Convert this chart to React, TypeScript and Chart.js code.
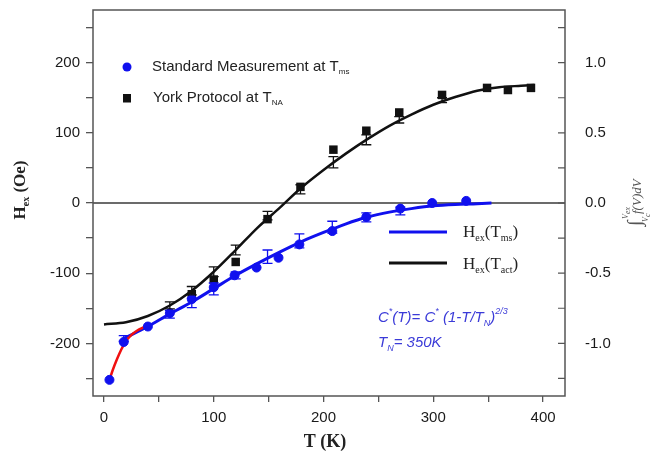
import React, { useEffect, useRef } from "react";
import { Chart, registerables } from "chart.js";

Chart.register(...registerables);

// Standard measurement at T_ms (blue circles)
const msT = [5, 18, 40, 60, 80, 100, 119, 139, 159, 178, 208, 239, 270, 299, 330];
const msH = [-252, -198, -176, -157, -137, -120, -103, -92, -78, -59, -40, -20, -8, 0, 3];

// York protocol at T_NA (black squares)
const naT = [80, 100, 120, 149, 179, 209, 239, 269, 308, 349, 368, 389];
const naH = [-130, -109, -84, -23, 23, 76, 103, 129, 154, 164, 161, 164];

// Fitted H_ex(T_ms)
const fitMsT = [18, 40, 60, 80, 100, 120, 140, 160, 180, 200, 220, 240, 260, 280, 300, 320, 340, 353];
const fitMsH = [-193, -176, -158, -141, -122, -103, -86, -70, -55, -42, -30, -20, -13, -8, -4, -2, -1, 0];

// Fitted H_ex(T_act)
const fitActT = [0, 20, 40, 60, 80, 100, 120, 140, 160, 180, 200, 220, 240, 260, 280, 300, 320, 340, 360, 380, 392];
const fitActH = [-173, -170, -161, -146, -125, -98, -67, -35, -7, 22, 47, 70, 91, 110, 126, 140, 151, 160, 165, 167, 168];

// Low-temperature branch (red)
const lowT = [5, 8, 12, 16, 20, 25, 30, 35, 40];
const lowH = [-252, -238, -222, -208, -197, -188, -182, -178, -175];

// Error bars on the H_ex(T_act) curve
const errActT = [60, 80, 100, 120, 149, 179, 209, 239, 269, 308];
const errActLo = [-151, -131, -105, -74, -24, 13, 50, 83, 114, 143];
const errActHi = [-141, -119, -91, -60, -12, 26, 66, 97, 123, 150];

// Error bars on the H_ex(T_ms) curve
const errMsT = [18, 60, 80, 100, 120, 149, 178, 208, 239, 270];
const errMsLo = [-197, -164, -149, -131, -108, -86, -64, -43, -27, -17];
const errMsHi = [-189, -153, -136, -114, -98, -67, -44, -26, -14, -6];

// Axis tick positions
const xTicks = [0, 50, 100, 150, 200, 250, 300, 350, 400];
const leftTicks = [-250, -200, -150, -100, -50, 0, 50, 100, 150, 200, 250];
const rightTicks = [-1.25, -1, -0.75, -0.5, -0.25, 0, 0.25, 0.5, 0.75, 1, 1.25];

const BLUE = "#1010ee";
const SANS = '"Liberation Sans", Arial, sans-serif';
const SERIF = '"Liberation Serif", "Times New Roman", serif';

type Part = { t: string; font: string; dy?: number };

function drawRich(ctx: CanvasRenderingContext2D, x: number, y: number, parts: Part[], align: "left" | "center" = "left") {
  let total = 0;
  for (const p of parts) {
    ctx.font = p.font;
    total += ctx.measureText(p.t).width;
  }
  let cx = align === "center" ? x - total / 2 : x;
  ctx.textAlign = "left";
  for (const p of parts) {
    ctx.font = p.font;
    ctx.fillText(p.t, cx, y + (p.dy || 0));
    cx += ctx.measureText(p.t).width;
  }
}

const noPad = (s: any) => {
  s.paddingTop = 0;
  s.paddingBottom = 0;
  s.paddingLeft = 0;
  s.paddingRight = 0;
};

const decor = {
  id: "decor",
  beforeDatasetsDraw(chart: any) {
    const { ctx, chartArea: a, scales } = chart;
    const y0 = scales.y.getPixelForValue(0);
    ctx.save();
    ctx.strokeStyle = "#3a3a3a";
    ctx.lineWidth = 1.5;
    ctx.beginPath();
    ctx.moveTo(a.left, y0);
    ctx.lineTo(a.right, y0);
    ctx.stroke();
    ctx.restore();
  },
  afterDatasetsDraw(chart: any) {
    const { ctx, scales } = chart;
    const xs = scales.x;
    const ys = scales.y;
    const bars = (T: number[], lo: number[], hi: number[], color: string) => {
      ctx.save();
      ctx.strokeStyle = color;
      ctx.lineWidth = 1.3;
      T.forEach((t, i) => {
        const px = xs.getPixelForValue(t);
        const yl = ys.getPixelForValue(lo[i]);
        const yh = ys.getPixelForValue(hi[i]);
        ctx.beginPath();
        ctx.moveTo(px, yl);
        ctx.lineTo(px, yh);
        ctx.moveTo(px - 5, yl);
        ctx.lineTo(px + 5, yl);
        ctx.moveTo(px - 5, yh);
        ctx.lineTo(px + 5, yh);
        ctx.stroke();
      });
      ctx.restore();
    };
    bars(errActT, errActLo, errActHi, "#111");
    bars(errMsT, errMsLo, errMsHi, BLUE);
  },
  afterDraw(chart: any) {
    const { ctx, chartArea: a, scales } = chart;
    ctx.save();

    // frame
    ctx.strokeStyle = "#555";
    ctx.lineWidth = 1.5;
    ctx.strokeRect(a.left, a.top, a.right - a.left, a.bottom - a.top);

    // inward ticks on the right axis
    ctx.lineWidth = 1.2;
    ctx.beginPath();
    for (const v of rightTicks) {
      const py = scales.y2.getPixelForValue(v);
      ctx.moveTo(a.right, py);
      ctx.lineTo(a.right - 7, py);
    }
    ctx.stroke();

    ctx.textBaseline = "middle";

    // upper-left legend
    ctx.fillStyle = BLUE;
    ctx.beginPath();
    ctx.arc(127, 67, 4.5, 0, Math.PI * 2);
    ctx.fill();
    ctx.fillStyle = "#111";
    ctx.fillRect(123, 94, 8, 8.5);
    ctx.fillStyle = "#222";
    drawRich(ctx, 152, 67, [
      { t: "Standard Measurement at T", font: `15px ${SANS}` },
      { t: "ms", font: `8px ${SANS}`, dy: 5 },
    ]);
    drawRich(ctx, 153, 98, [
      { t: "York Protocol at T", font: `15px ${SANS}` },
      { t: "NA", font: `8px ${SANS}`, dy: 5 },
    ]);

    // fit legend
    ctx.lineWidth = 3;
    ctx.strokeStyle = BLUE;
    ctx.beginPath();
    ctx.moveTo(389, 232);
    ctx.lineTo(447, 232);
    ctx.stroke();
    ctx.strokeStyle = "#111";
    ctx.beginPath();
    ctx.moveTo(389, 263);
    ctx.lineTo(447, 263);
    ctx.stroke();
    ctx.fillStyle = "#222";
    drawRich(ctx, 463, 233, [
      { t: "H", font: `17px ${SERIF}` },
      { t: "ex", font: `10px ${SERIF}`, dy: 5 },
      { t: "(T", font: `17px ${SERIF}` },
      { t: "ms", font: `10px ${SERIF}`, dy: 5 },
      { t: ")", font: `17px ${SERIF}` },
    ]);
    drawRich(ctx, 463, 265, [
      { t: "H", font: `17px ${SERIF}` },
      { t: "ex", font: `10px ${SERIF}`, dy: 5 },
      { t: "(T", font: `17px ${SERIF}` },
      { t: "act", font: `10px ${SERIF}`, dy: 5 },
      { t: ")", font: `17px ${SERIF}` },
    ]);

    // formula
    ctx.fillStyle = "#3b3bd8";
    const it = `italic 15px ${SANS}`;
    const its = `italic 9px ${SANS}`;
    drawRich(ctx, 378, 318, [
      { t: "C", font: it },
      { t: "*", font: its, dy: -7 },
      { t: "(T)= C", font: it },
      { t: "*", font: its, dy: -7 },
      { t: " (1-T/T", font: it },
      { t: "N", font: its, dy: 5 },
      { t: ")", font: it },
      { t: "2/3", font: its, dy: -7 },
    ]);
    drawRich(ctx, 378, 343, [
      { t: "T", font: it },
      { t: "N", font: its, dy: 5 },
      { t: "= 350K", font: it },
    ]);

    // x axis title
    ctx.fillStyle = "#222";
    drawRich(ctx, 325, 442, [{ t: "T (K)", font: `bold 18px ${SERIF}` }], "center");

    // left axis title
    ctx.save();
    ctx.translate(21, 190);
    ctx.rotate(-Math.PI / 2);
    drawRich(ctx, 0, 0, [
      { t: "H", font: `bold 17px ${SERIF}` },
      { t: "ex", font: `bold 10px ${SERIF}`, dy: 5 },
      { t: " (Oe)", font: `bold 17px ${SERIF}` },
    ], "center");
    ctx.restore();

    // right axis title
    ctx.save();
    ctx.translate(641, 226);
    ctx.rotate(-Math.PI / 2);
    ctx.fillStyle = "#555";
    ctx.textBaseline = "alphabetic";
    ctx.font = `italic 20px ${SERIF}`;
    ctx.fillText("\u222B", 0, 0);
    ctx.font = `italic 8px ${SERIF}`;
    ctx.fillText("V", 7, -13);
    ctx.fillText("ex", 12, -11);
    ctx.fillText("V", 4, 7);
    ctx.fillText("c", 9, 9);
    ctx.font = `italic 13px ${SERIF}`;
    ctx.fillText("f(V)dV", 12, 0);
    ctx.restore();

    ctx.restore();
  },
};

export default function App() {
  const ref = useRef<HTMLCanvasElement>(null);

  useEffect(() => {
    const canvas = ref.current;
    if (!canvas) return;
    const pts = (xs: number[], ys: number[]) => xs.map((x, i) => ({ x, y: ys[i] }));
    const tickFont = { family: SANS, size: 15 };

    const chart = new Chart(canvas, {
      type: "scatter",
      data: {
        datasets: [
          {
            label: "Standard Measurement at T_ms",
            data: pts(msT, msH),
            pointStyle: "circle",
            pointRadius: 4.5,
            backgroundColor: BLUE,
            borderColor: BLUE,
            borderWidth: 1,
          },
          {
            label: "York Protocol at T_NA",
            data: pts(naT, naH),
            pointStyle: "rect",
            pointRadius: 6,
            backgroundColor: "#111",
            borderColor: "#111",
            borderWidth: 0,
          },
          {
            label: "low-T branch",
            data: pts(lowT, lowH),
            showLine: true,
            pointRadius: 0,
            borderColor: "#f01010",
            borderWidth: 2.5,
            cubicInterpolationMode: "monotone",
          },
          {
            label: "H_ex(T_ms)",
            data: pts(fitMsT, fitMsH),
            showLine: true,
            pointRadius: 0,
            borderColor: BLUE,
            borderWidth: 3,
            cubicInterpolationMode: "monotone",
          },
          {
            label: "H_ex(T_act)",
            data: pts(fitActT, fitActH),
            showLine: true,
            pointRadius: 0,
            borderColor: "#111",
            borderWidth: 2.5,
            cubicInterpolationMode: "monotone",
          },
        ],
      },
      options: {
        responsive: false,
        animation: false,
        devicePixelRatio: 1,
        layout: { padding: { top: 10, left: 0, right: 0, bottom: 0 } },
        plugins: { legend: { display: false }, tooltip: { enabled: false } },
        scales: {
          x: {
            type: "linear",
            min: -10,
            max: 420,
            afterBuildTicks: (s: any) => {
              s.ticks = xTicks.map((v) => ({ value: v }));
            },
            afterFit: (s: any) => {
              s.height = 55;
              noPad(s);
            },
            grid: { drawOnChartArea: false, tickLength: 6, color: "#555", lineWidth: 1.3 },
            border: { display: false },
            ticks: {
              padding: 7,
              color: "#1a1a1a",
              font: tickFont,
              maxRotation: 0,
              autoSkip: false,
              callback: (v: any) => (Number(v) % 100 === 0 ? String(v) : ""),
            },
          },
          y: {
            type: "linear",
            position: "left",
            min: -275,
            max: 275,
            afterBuildTicks: (s: any) => {
              s.ticks = leftTicks.map((v) => ({ value: v }));
            },
            afterFit: (s: any) => {
              s.width = 93;
              noPad(s);
            },
            grid: { drawOnChartArea: false, tickLength: 7, color: "#555", lineWidth: 1.3 },
            border: { display: false },
            ticks: {
              padding: 6,
              color: "#1a1a1a",
              font: tickFont,
              autoSkip: false,
              callback: (v: any) => (Number(v) % 100 === 0 ? String(v) : ""),
            },
          },
          y2: {
            type: "linear",
            position: "right",
            min: -1.375,
            max: 1.375,
            afterBuildTicks: (s: any) => {
              s.ticks = rightTicks.map((v) => ({ value: v }));
            },
            afterFit: (s: any) => {
              s.width = 107;
              noPad(s);
            },
            grid: { drawOnChartArea: false, drawTicks: false },
            border: { display: false },
            ticks: {
              padding: 20,
              color: "#1a1a1a",
              font: tickFont,
              autoSkip: false,
              callback: (v: any) => (Number(v) % 0.5 === 0 ? Number(v).toFixed(1) : ""),
            },
          },
        },
      },
      plugins: [decor],
    });

    return () => chart.destroy();
  }, []);

  return (
    <div style={{ position: "fixed", left: 0, top: 0, width: 672, height: 451, background: "#fff" }}>
      <canvas ref={ref} width={672} height={451} style={{ width: 672, height: 451, display: "block" }} />
    </div>
  );
}
